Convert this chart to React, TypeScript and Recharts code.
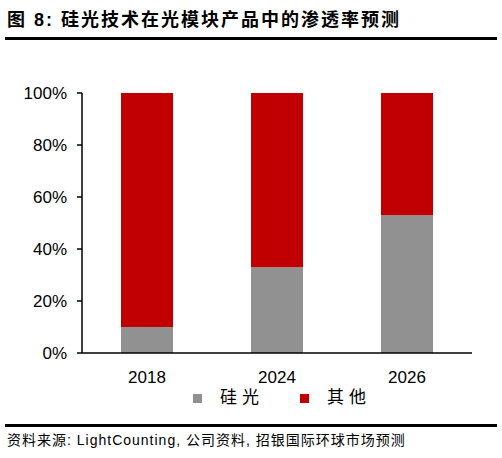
import { BarChart, Bar, XAxis, YAxis } from "recharts";

const categories = ["2018", "2024", "2026"];
const siliconShare = [0.1, 0.33, 0.53];
const otherShare = [0.9, 0.67, 0.47];
const yTicks = [0, 0.2, 0.4, 0.6, 0.8, 1];

const GREY = "#919191";
const RED = "#C00000";
const CJK = "'Liberation Sans', Arial, 'Noto Sans CJK SC', sans-serif";
const ARIAL = "'Liberation Sans', Arial, sans-serif";

const data = categories.map((year, i) => ({
  year,
  idx: i + 0.5,
  silicon: siliconShare[i],
  other: otherShare[i],
}));

const legendItems = [
  { label: "硅光", color: GREY },
  { label: "其他", color: RED },
];

function LegendBox() {
  return (
    <div
      style={{
        position: "absolute",
        left: 193,
        top: 386,
        display: "flex",
        alignItems: "center",
        gap: 36,
        fontFamily: CJK,
      }}
    >
      {legendItems.map((it) => (
        <div key={it.label} style={{ display: "flex", alignItems: "center", gap: 18 }}>
          <div style={{ width: 9, height: 9, backgroundColor: it.color }} />
          <span style={{ fontSize: 17, letterSpacing: 5, lineHeight: "24px", color: "#000" }}>
            {it.label}
          </span>
        </div>
      ))}
    </div>
  );
}

export default function App() {
  return (
    <div
      style={{
        position: "absolute",
        left: 0,
        top: 0,
        width: 502,
        height: 458,
        background: "#fff",
        fontFamily: CJK,
      }}
    >
      <div
        style={{
          position: "absolute",
          left: 7,
          top: 8,
          fontSize: 18,
          fontWeight: "bold",
          letterSpacing: 2,
          lineHeight: "24px",
          whiteSpace: "nowrap",
        }}
      >
        图 8: 硅光技术在光模块产品中的渗透率预测
      </div>
      <div style={{ position: "absolute", left: 5, top: 37, width: 492, height: 3, background: "#000" }} />

      <div style={{ position: "absolute", left: 0, top: 0 }}>
        <BarChart
          width={502}
          height={458}
          data={data}
          margin={{ top: 93, right: 30, bottom: 75, left: 0 }}
          barCategoryGap="30%"
        >
          {/* boundary ticks between categories */}
          <XAxis
            xAxisId="a-bound"
            type="number"
            dataKey="idx"
            domain={[0, 3]}
            ticks={[0, 1, 2, 3]}
            height={0}
            axisLine={false}
            tick={{ fill: "none", fontSize: 0 }}
            tickSize={6}
            tickLine={{ stroke: "#000", strokeWidth: 1.5 }}
          />
          <XAxis
            xAxisId="b-cat"
            dataKey="year"
            height={30}
            axisLine={{ stroke: "#000", strokeWidth: 1.5 }}
            tickLine={false}
            tickMargin={12}
            tick={{ fill: "#000", fontSize: 17, fontFamily: ARIAL }}
          />
          <YAxis
            width={82}
            domain={[0, 1]}
            ticks={yTicks}
            tickFormatter={(v: number) => `${Math.round(v * 100)}%`}
            axisLine={{ stroke: "#000", strokeWidth: 1.5 }}
            tickLine={{ stroke: "#000", strokeWidth: 1.5 }}
            tickSize={5}
            tickMargin={10}
            tick={{ fill: "#000", fontSize: 17, fontFamily: ARIAL }}
          />
          <Bar xAxisId="b-cat" dataKey="silicon" name="硅光" stackId="a" fill={GREY} isAnimationActive={false} />
          <Bar xAxisId="b-cat" dataKey="other" name="其他" stackId="a" fill={RED} isAnimationActive={false} />
        </BarChart>
      </div>

      <LegendBox />

      <div style={{ position: "absolute", left: 5, top: 424, width: 492, height: 3, background: "#000" }} />
      <div
        style={{
          position: "absolute",
          left: 7,
          top: 431,
          fontSize: 14,
          letterSpacing: 1,
          lineHeight: "18px",
          whiteSpace: "nowrap",
        }}
      >
        资料来源: LightCounting, 公司资料, 招银国际环球市场预测
      </div>
    </div>
  );
}
